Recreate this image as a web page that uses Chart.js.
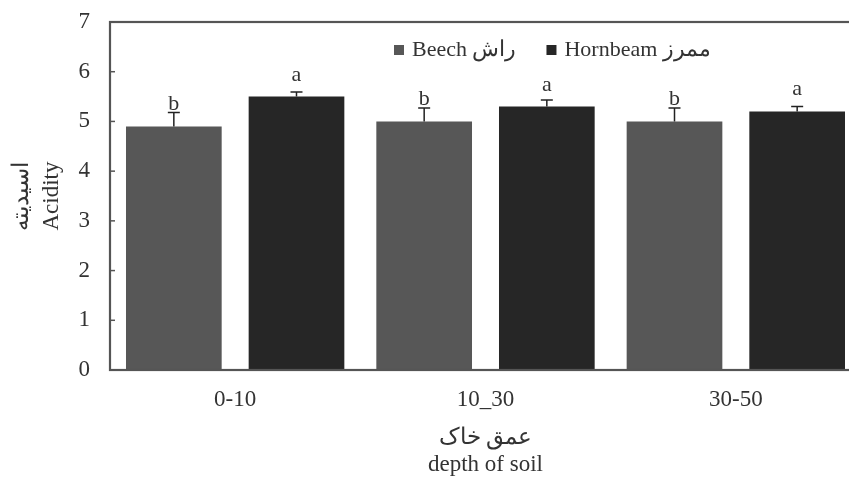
<!DOCTYPE html>
<html><head><meta charset="utf-8">
<script src="https://cdn.jsdelivr.net/npm/chart.js@4/dist/chart.umd.min.js"></script>
<style>html,body{margin:0;padding:0;background:#fff;overflow:hidden;}#wrap{width:880px;height:479px;}</style>
</head><body><div id="wrap"><canvas id="c" width="880" height="479"></canvas></div>
<script>
const categories = ['0-10', '10_30', '30-50'];
const beechValues = [4.9, 5.0, 5.0];
const hornbeamValues = [5.5, 5.3, 5.2];
const beechErrors = [0.28, 0.27, 0.27];
const hornbeamErrors = [0.09, 0.13, 0.1];
const beechLetters = ['b', 'b', 'b'];
const hornbeamLetters = ['a', 'a', 'a'];
const seriesNames = ['Beech راش', 'Hornbeam ممرز'];
const yTicks = [0, 1, 2, 3, 4, 5, 6, 7];

const FONT = "'Liberation Serif', 'DejaVu Serif', serif";
const errs = [beechErrors, hornbeamErrors];
const letters = [beechLetters, hornbeamLetters];

const decor = {
  id: 'decor',
  afterDatasetsDraw(chart) {
    const ctx = chart.ctx, a = chart.chartArea, ys = chart.scales.y;
    ctx.save();
    chart.data.datasets.forEach((ds, di) => {
      const meta = chart.getDatasetMeta(di);
      meta.data.forEach((bar, i) => {
        const v = ds.data[i], e = errs[di][i];
        const yTop = ys.getPixelForValue(v + e);
        const x = bar.x;
        ctx.strokeStyle = '#222';
        ctx.lineWidth = 1.5;
        ctx.beginPath();
        ctx.moveTo(x, bar.y); ctx.lineTo(x, yTop);
        ctx.moveTo(x - 6, yTop); ctx.lineTo(x + 6, yTop);
        ctx.stroke();
        ctx.fillStyle = '#333';
        ctx.font = '22px ' + FONT;
        ctx.textAlign = 'center';
        ctx.textBaseline = 'alphabetic';
        ctx.fillText(letters[di][i], x, bar.y - 16);
      });
    });
    ctx.strokeStyle = '#555';
    ctx.lineWidth = 2.2;
    ctx.strokeRect(a.left, a.top, a.right - a.left, a.bottom - a.top);
    ctx.lineWidth = 1.5;
    yTicks.forEach(t => {
      const y = ys.getPixelForValue(t);
      ctx.beginPath(); ctx.moveTo(a.left, y); ctx.lineTo(a.left + 5, y); ctx.stroke();
    });
    ctx.font = '22px ' + FONT;
    ctx.textBaseline = 'middle';
    ctx.textAlign = 'left';
    const ly = 50;
    let lx = 394;
    chart.data.datasets.forEach((ds, di) => {
      ctx.fillStyle = ds.backgroundColor;
      ctx.fillRect(lx, ly - 5, 10, 10);
      ctx.fillStyle = '#333';
      ctx.fillText(ds.label, lx + 18, ly);
      lx += 18 + ctx.measureText(ds.label).width + 30;
    });
    ctx.restore();
  }
};

new Chart(document.getElementById('c'), {
  type: 'bar',
  data: {
    labels: categories,
    datasets: [
      { label: seriesNames[0], data: beechValues, backgroundColor: '#575757', categoryPercentage: 0.98, barPercentage: 0.78 },
      { label: seriesNames[1], data: hornbeamValues, backgroundColor: '#262626', categoryPercentage: 0.98, barPercentage: 0.78 }
    ]
  },
  options: {
    responsive: false,
    animation: false,
    devicePixelRatio: 1,
    layout: { padding: { top: 22, right: 19, left: 0, bottom: 0 } },
    plugins: { legend: { display: false }, tooltip: { enabled: false } },
    scales: {
      x: {
        grid: { display: false, drawTicks: false },
        border: { display: false },
        ticks: { color: '#333', font: { family: FONT, size: 23 }, padding: 16 },
        title: { display: true, text: ['عمق خاک', 'depth of soil'], color: '#333', font: { family: FONT, size: 23, lineHeight: 1.2 }, padding: { top: 0, bottom: 0 } },
        afterFit(s) { s.height = 109; s.paddingLeft = 0; s.paddingRight = 0; }
      },
      y: {
        min: 0, max: 7,
        grid: { display: false, drawTicks: false },
        border: { display: false },
        ticks: { stepSize: 1, color: '#333', font: { family: FONT, size: 23 }, padding: 20 },
        title: { display: true, text: ['اسیدیته', 'Acidity'], color: '#333', font: { family: FONT, size: 23, lineHeight: 1.3 }, padding: { top: 7, bottom: 0 } },
        afterFit(s) { s.width = 110; s.paddingTop = 0; s.paddingBottom = 0; }
      }
    }
  },
  plugins: [decor]
});
</script>
</body></html>
